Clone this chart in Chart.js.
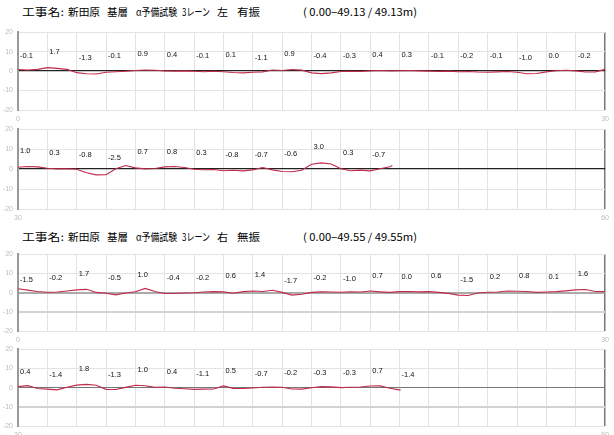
<!DOCTYPE html>
<html><head><meta charset="utf-8">
<script src="https://cdn.jsdelivr.net/npm/chart.js@4"></script>
<style>
html,body{margin:0;padding:0;background:#fff;width:614px;height:435px;overflow:hidden;position:relative;font-family:"Noto Sans CJK JP",sans-serif;}
.t{position:absolute;font-size:10.5px;line-height:14px;color:#000;white-space:pre;transform-origin:0 50%;}
canvas{position:absolute;left:0;}
</style></head><body>
<div id="titles"></div>
<canvas id="s1"></canvas><canvas id="s2"></canvas><canvas id="s3"></canvas><canvas id="s4"></canvas>
<script>
// ---- data ----
const STEP = 0.5;          // profile sampling interval (m)
const SEG_LEN = 1.5;       // averaging section length (m)
const END1 = 49.13;
const END2 = 49.55;
// section 1: 3レーン 左 有振 (profile in mm, every 0.5 m, last point at END1)
const profile1 = [
  0.8, 0.6, 0.9, 1.8, 1.4, 0.9, -0.8, -1.4, -1.5, -0.6,
  -0.3, -0.1, 0.3, 0.6, 0.4, 0.1, 0.0, 0.1, -0.1, -0.3,
  -0.1, -0.3, -0.7, -0.9, -0.6, -0.4, 0.6, 0.3, 0.8, 0.5,
  -0.9, -1.3, -0.9, -0.2, -0.1, -0.2, 0.1, 0.3, 0.1, 0.2,
  0.3, 0.1, 0.0, -0.2, 0.0, -0.3, -0.2, -0.5, -0.6, -0.4,
  -0.2, -0.6, -1.4, -1.2, -0.4, 0.2, 0.4, 0.1, -0.5, -0.4,
  0.9, 1.3, 1.1, 0.4, 0.1, 0.2, -0.1, -1.8, -2.9, -2.8,
  0.2, 1.8, 0.6, 0.1, 0.3, 1.1, 1.3, 0.8, -0.1, -0.3,
  -0.2, -0.8, -0.6, -0.9, -0.4, 0.8, -0.4, -1.2, -1.3, -0.6,
  2.4, 3.1, 2.6, 0.2, -0.8, -0.5, -0.9, 0.2, 1.2, 1.8
];
const sections1 = [-0.1, 1.7, -1.3, -0.1, 0.9, 0.4, -0.1, 0.1, -1.1, 0.9,
  -0.4, -0.3, 0.4, 0.3, -0.1, -0.2, -0.1, -1.0, 0.0, -0.2,
  1.0, 0.3, -0.8, -2.5, 0.7, 0.8, 0.3, -0.8, -0.7, -0.6, 3.0, 0.3, -0.7];
// section 2: 3レーン 右 無振
const profile2 = [
  2.0, 1.3, 0.6, 0.2, 0.3, 0.8, 1.4, 1.7, 0.1, -0.3,
  -1.2, -0.2, 0.4, 2.2, 0.6, -0.5, -0.5, -0.2, -0.1, 0.3,
  0.5, 0.4, -0.3, 0.5, 0.8, 0.6, 1.2, 0.1, -1.3, -0.9,
  0.1, 0.4, 0.3, 0.2, 0.4, 0.3, 0.8, 0.4, 0.1, 0.5,
  0.6, 0.4, 0.5, 0.1, -0.4, -1.3, -1.5, -0.2, 0.2, 0.3,
  0.8, 0.7, 0.6, 0.1, 0.3, 0.5, 0.9, 1.4, 1.6, 0.6,
  0.5, 1.0, -0.5, -0.8, -1.2, 0.2, 1.3, 1.7, 1.2, -0.9,
  -1.0, 0.1, 1.2, 1.0, 0.1, 0.3, -0.3, -0.6, -0.9, -0.8,
  -0.7, 0.9, -0.4, -0.5, -0.2, 0.2, 0.3, 0.2, -0.7, -0.8,
  -0.1, 0.5, 0.4, 0.0, 0.2, 0.3, 0.8, 0.9, -0.3, -1.2, -1.3
];
const sections2 = [-1.5, -0.2, 1.7, -0.5, 1.0, -0.4, -0.2, 0.6, 1.4, -1.7,
  -0.2, -1.0, 0.7, 0.0, 0.6, -1.5, 0.2, 0.8, 0.1, 1.6,
  0.4, -1.4, 1.8, -1.3, 1.0, 0.4, -1.1, 0.5, -0.7, -0.2, -0.3, -0.3, 0.7, -1.4];
const title1 = ["工事名:", "新田原", "基層", "α予備試験", "3レーン", "左", "有振", "( 0.00−49.13 / 49.13m)"];
const title2 = ["工事名:", "新田原", "基層", "α予備試験", "3レーン", "右", "無振", "( 0.00−49.55 / 49.55m)"];
const yTicks = [-20, -10, 0, 10, 20];

// ---- build ----
const titleX = [22, 68, 107, 136, 182, 217, 237, 303];
const titleW = [42, 32, 21, 41, 28, 11, 23, 114];
function addTitle(parts, top){
  parts.forEach((p,i)=>{
    const d=document.createElement('div'); d.className='t';
    d.style.left=titleX[i]+'px'; d.style.top=top+'px'; d.textContent=p;
    document.getElementById('titles').appendChild(d);
    const w = d.getBoundingClientRect().width;
    if (w>0) d.style.transform='scaleX('+(titleW[i]/w)+')';
  });
}
addTitle(title1, 5);
addTitle(title2, 230);

function toPoints(vals, end){
  return vals.map((v,i)=>({x: i===vals.length-1 ? end : i*STEP, y: v}));
}
const pts1 = toPoints(profile1, END1);
const pts2 = toPoints(profile2, END2);

const LABEL_BASE = 8;
const segLabels = {
  id:'segLabels',
  afterDatasetsDraw(chart, args, o){
    const {ctx, scales:{x,y}} = chart;
    ctx.save();
    ctx.font = '7.5px "Liberation Sans", Arial, sans-serif';
    ctx.fillStyle = '#111'; ctx.textBaseline='middle'; ctx.textAlign='left';
    o.values.forEach((v,i)=>{
      const xv = o.start + i*SEG_LEN;
      if (xv >= o.end) return;
      ctx.fillText(v.toFixed(1), x.getPixelForValue(xv)+2, y.getPixelForValue(LABEL_BASE + v));
    });
    ctx.restore();
  }
};

function strip(id, top, h, xmin, xmax, pts, secs, zeroColor, zeroWidth, heavy){
  const cv = document.getElementById(id);
  cv.width = 614; cv.height = 5 + h + 12;
  cv.style.top = (top-5)+'px';
  const data = pts.filter(p=>p.x>=xmin-1e-9 && p.x<=xmax+1e-9);
  const secVals = secs.slice(Math.round(xmin/SEG_LEN));
  new Chart(cv, {
    type:'line',
    data:{datasets:[{data, borderColor:'#c02a4c', borderWidth:1.1, pointRadius:0, tension:0, fill:false}]},
    plugins:[segLabels],
    options:{
      responsive:false, animation:false, devicePixelRatio:1,
      layout:{padding:{top:5, right:7, left:0, bottom:0}},
      plugins:{legend:{display:false}, tooltip:{enabled:false},
        segLabels:{values:secVals, start:xmin, end:xmax}},
      scales:{
        x:{type:'linear', min:xmin, max:xmax,
          afterFit:s=>{s.height=12;},
          border:{display:false},
          grid:{drawTicks:false, color:c=>(c.tick && Math.abs(c.tick.value-xmax)<1e-6)?'#777':'#e3e3e3',
                lineWidth:c=>(c.tick && Math.abs(c.tick.value-xmax)<1e-6)?1.5:1},
          ticks:{stepSize:SEG_LEN, autoSkip:false, maxRotation:0, padding:5, color:'#bbb',
            font:{size:7, family:'"Liberation Sans", Arial'},
            callback:(v,i,t)=>(i===0||i===t.length-1)?String(Math.round(v)):''}},
        y:{min:yTicks[0], max:yTicks[yTicks.length-1],
          afterFit:s=>{s.width=18;},
          border:{display:true, color:'#999', width:2},
          grid:{drawTicks:false,
            color:c=>c.tick.value===0?zeroColor:((heavy&&c.tick.value===-10)?'#d2d2d2':'#e3e3e3'),
            lineWidth:c=>c.tick.value===0?zeroWidth:((heavy&&c.tick.value===-10)?2:1)},
          ticks:{stepSize:5, padding:5, color:'#bbb', font:{size:7, family:'"Liberation Sans", Arial'},
            callback:v=>yTicks.includes(v)?String(v):''}}
      }
    }
  });
}
strip('s1', 28, 82, 0, 30, pts1, sections1, '#222', 1.2, false);
strip('s2', 125, 84, 30, 60, pts1, sections1, '#222', 1.2, false);
strip('s3', 250, 81, 0, 30, pts2, sections2, '#aaa', 2, true);
strip('s4', 345, 81, 30, 60, pts2, sections2, '#777', 1, true);
</script>
</body></html>
